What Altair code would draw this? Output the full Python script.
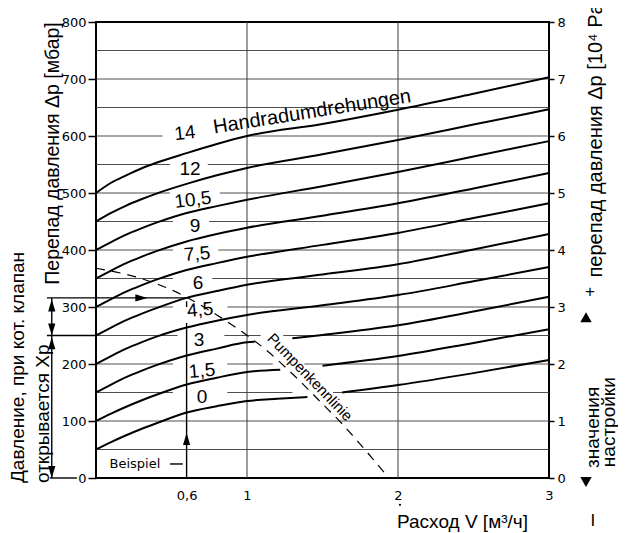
import altair as alt
import pandas as pd

# ---------------- data ----------------
# flow V [m3/h] sample positions and Δp [mbar] for each hand-wheel setting
flow_full = [0, 0.1, 0.2, 0.3, 0.4, 0.6, 0.8, 1.0, 1.5, 2.0, 2.5, 3.0]
dp_14 = [500, 518, 531, 543, 553, 570, 586, 600, 621, 646, 674, 703]
dp_12 = [450, 465, 478, 489, 499, 516, 531, 544, 568, 593, 620, 647]
dp_10_5 = [400, 414, 427, 438, 448, 465, 477, 488, 512, 537, 564, 591]
dp_9 = [350, 364, 377, 388, 398, 415, 428, 439, 460, 482, 508, 535]
dp_7_5 = [300, 314, 327, 338, 348, 365, 377, 388, 409, 430, 456, 482]
dp_6 = [250, 264, 277, 288, 298, 316, 328, 339, 357, 375, 401, 428]
dp_4_5 = [200, 214, 227, 238, 248, 264, 276, 286, 303, 321, 345, 370]

# curves interrupted by the pump line label
flow_3_a = [0, 0.1, 0.2, 0.3, 0.4, 0.6, 0.8, 1.0, 1.05]
dp_3_a = [150, 164, 177, 188, 198, 215, 227, 238, 239]
flow_3_b = [1.30, 1.5, 2.0, 2.5, 3.0]
dp_3_b = [245, 251, 268, 292, 318]
flow_1_5_a = [0, 0.1, 0.2, 0.3, 0.4, 0.6, 0.8, 1.0, 1.22]
dp_1_5_a = [100, 113, 125, 136, 146, 164, 176, 186, 190]
flow_1_5_b = [1.5, 2.0, 2.5, 3.0]
dp_1_5_b = [197, 214, 237, 261]
flow_0_a = [0, 0.1, 0.2, 0.3, 0.4, 0.6, 0.8, 1.0, 1.2, 1.40]
dp_0_a = [50, 63, 75, 86, 96, 115, 126, 135, 139, 142]
flow_0_b = [1.63, 2.0, 2.5, 3.0]
dp_0_b = [150, 163, 184, 207]

# pump characteristic (Pumpenkennlinie)
pump_flow = [0, 0.3, 0.5, 0.6, 0.8, 0.97, 1.12, 1.3, 1.5, 1.63, 1.78, 1.93]
pump_dp = [368, 350, 330, 317, 286, 256, 226, 183, 130, 95, 50, 3]

# curve labels
setting_labels = ["14", "12", "10,5", "9", "7,5", "6", "4,5", "3", "1,5", "0"]
label_x = [0.589, 0.623, 0.642, 0.656, 0.669, 0.675, 0.689, 0.682, 0.702, 0.702]
label_y = [605, 542, 488, 442, 393, 342, 295, 242, 188, 142]
label_angle = [354, 0, 353, 0, 355, 0, 355, 0, 355, 0]

# horizontal grid levels and the gaps left around the labels
grid_levels = list(range(50, 800, 50))
grid_gaps = {
    600: [(0.44, 1.0)],
    550: [(0.49, 0.74)],
    500: [(0.49, 0.82)],
    450: [(0.51, 0.75)],
    400: [(0.51, 0.81)],
    350: [(0.51, 0.77)],
    300: [(0.51, 0.87)],
    250: [(0.54, 0.85), (1.09, 1.24)],
    200: [(0.51, 0.87), (1.17, 1.38)],
    150: [(0.51, 0.87), (1.30, 1.57)],
}
vgrid_flow = [1, 2]

# example construction (Beispiel): V = 0.6 -> Δp 316 -> Xp 250
ex_x = [-0.325, -0.325, -0.305, -0.293, 0.6, 0.6, 0.49]
ex_x2 = [0.6, 0.0, -0.126, -0.293, 0.6, 0.6, 0.575]
ex_y = [316, 250, 0, 316, 0, 300, 24.6]
ex_y2 = [316, 250, 0, 0, 272, 310, 24.6]

arrow_x = [0.6, 0.34, -0.293, -0.293, -0.293, -0.293]
arrow_y = [79, 316, 313, 250, 247, 0]
arrow_dir = ["up", "right", "up", "down", "up", "down"]

# ---------------- tables ----------------
rows = []
def add(name, xs_, ys_):
    for a, b in zip(xs_, ys_):
        rows.append({"seg": name, "flow": a, "dp": b})

add("14", flow_full, dp_14)
add("12", flow_full, dp_12)
add("10,5", flow_full, dp_10_5)
add("9", flow_full, dp_9)
add("7,5", flow_full, dp_7_5)
add("6", flow_full, dp_6)
add("4,5", flow_full, dp_4_5)
add("3a", flow_3_a, dp_3_a)
add("3b", flow_3_b, dp_3_b)
add("1,5a", flow_1_5_a, dp_1_5_a)
add("1,5b", flow_1_5_b, dp_1_5_b)
add("0a", flow_0_a, dp_0_a)
add("0b", flow_0_b, dp_0_b)
curves_df = pd.DataFrame(rows)

pump_df = pd.DataFrame({"flow": pump_flow, "dp": pump_dp})

hseg = []
for lev in grid_levels:
    start = 0.0
    for g0, g1 in grid_gaps.get(lev, []):
        hseg.append({"x": start, "x2": g0, "y": lev})
        start = g1
    hseg.append({"x": start, "x2": 3.0, "y": lev})
hgrid_df = pd.DataFrame(hseg)
vgrid_df = pd.DataFrame({"x": vgrid_flow, "y": [0] * len(vgrid_flow), "y2": [800] * len(vgrid_flow)})

ex_df = pd.DataFrame({"x": ex_x, "x2": ex_x2, "y": ex_y, "y2": ex_y2})
paths = {
    "up": "M0,0L-1.2,4L1.2,4Z",
    "down": "M0,0L-1.2,-4L1.2,-4Z",
    "right": "M0,0L-4,-1.2L-4,1.2Z",
}
arrow_df = pd.DataFrame({"x": arrow_x, "y": arrow_y,
                         "shape": [paths[d] for d in arrow_dir]})

lab_df = pd.DataFrame({"x": label_x, "y": label_y, "t": setting_labels, "a": label_angle})

# ---------------- chart ----------------
FONT = "Liberation Sans"
xs = alt.Scale(domain=[0, 3], nice=False, zero=False)
ys = alt.Scale(domain=[0, 800], nice=False, zero=False)

x_axis = alt.Axis(
    values=[0.6, 1, 2, 3], labelExpr="datum.value == 0.6 ? '0,6' : datum.label",
    ticks=False, domain=False, grid=False, labelPadding=11, labelFlush=False,
    labelOverlap=False, labelFont="DejaVu Sans", labelFontSize=13, labelColor="black",
    title="Расход V [м³/ч]", titleFont=FONT, titleFontSize=19, titleFontWeight="normal",
    titleColor="black", titleX=366, titleY=49, titleAlign="center",
    titleBaseline="alphabetic")
y_axis = alt.Axis(
    values=list(range(0, 801, 100)), tickSize=8, tickWidth=1.5, tickColor="black",
    domain=False, grid=False, labelPadding=2, labelOverlap=False,
    labelFont="DejaVu Sans", labelFontSize=13, labelColor="black",
    title="Перепад давления Δp [мбар]", titleFont=FONT, titleFontSize=19.5,
    titleFontWeight="normal", titleColor="black", titleAngle=270,
    titleX=-44, titleY=131, titleAlign="center", titleBaseline="middle")


def X(f):
    return alt.X(f, type="quantitative", scale=xs, axis=x_axis)


def Y(f):
    return alt.Y(f, type="quantitative", scale=ys, axis=y_axis)


grid_h = alt.Chart(hgrid_df).mark_rule(color="#3a3a3a", strokeWidth=0.9).encode(
    x=X("x"), x2="x2:Q", y=Y("y"))

grid_v = alt.Chart(vgrid_df).mark_rule(color="#3a3a3a", strokeWidth=1).encode(
    x=X("x"), y=Y("y"), y2="y2:Q")

curves = alt.Chart(curves_df).mark_line(color="black", strokeWidth=2, interpolate="monotone").encode(
    x=X("flow"), y=Y("dp"), detail="seg:N")

pump = alt.Chart(pump_df).mark_line(color="black", strokeWidth=1.2, strokeDash=[9, 7],
                                    interpolate="monotone").encode(x=X("flow"), y=Y("dp"))

example = alt.Chart(ex_df).mark_rule(color="black", strokeWidth=1.4).encode(
    x=X("x"), x2="x2:Q", y=Y("y"), y2="y2:Q")

arrows = alt.Chart(arrow_df).mark_point(filled=True, color="black", opacity=1, size=36).encode(
    x=X("x"), y=Y("y"), shape=alt.Shape("shape:N", scale=None))

labels = alt.Chart(lab_df).mark_text(font=FONT, fontSize=19, color="black",
                                     align="center", baseline="middle").encode(
    x=X("x"), y=Y("y"), text="t:N", angle=alt.Angle("a:Q", scale=None))

hand = alt.Chart(pd.DataFrame({"x": [1.437], "y": [632], "t": ["Handradumdrehungen"]})).mark_text(
    font=FONT, fontSize=20, color="black", align="center", baseline="alphabetic", angle=351).encode(
    x=X("x"), y=Y("y"), text="t:N")

pumptxt = alt.Chart(pd.DataFrame({"x": [1.417], "y": [177], "t": ["Pumpenkennlinie"]})).mark_text(
    font=FONT, fontSize=15, color="black", align="center", baseline="middle", angle=46).encode(
    x=X("x"), y=Y("y"), text="t:N")

beispiel = alt.Chart(pd.DataFrame({"x": [0.258], "y": [24.6], "t": ["Beispiel"]})).mark_text(
    font="DejaVu Sans", fontSize=13, color="black", align="center", baseline="middle").encode(
    x=X("x"), y=Y("y"), text="t:N")

side_df = pd.DataFrame({
    "x": [-0.515, -0.351, 3.291, 3.395],
    "y": [-8.8, -8.8, 17.5, 19],
    "t": ["Давление, при кот. клапан", "открывается Xp", "значения", "настройки"],
})
side = alt.Chart(side_df).mark_text(font=FONT, fontSize=19, color="black", align="left",
                                    baseline="middle", angle=270).encode(
    x=X("x"), y=Y("y"), text="t:N")

misc_df = pd.DataFrame({"x": [3.272, 3.291], "y": [326, -75], "t": ["+", "I"]})
misc = alt.Chart(misc_df).mark_text(font=FONT, fontSize=17, color="black", align="center",
                                    baseline="middle").encode(x=X("x"), y=Y("y"), text="t:N")

tri_df = pd.DataFrame({"x": [3.245, 3.245], "y": [282, -7], "s": ["triangle-up", "triangle-down"]})
tris = alt.Chart(tri_df).mark_point(filled=True, color="black", opacity=1, size=130).encode(
    x=X("x"), y=Y("y"), shape=alt.Shape("s:N", scale=None))

dot = alt.Chart(pd.DataFrame({"x": [2.013], "y": [-47]})).mark_point(
    filled=True, color="black", opacity=1, size=5, shape="circle").encode(x=X("x"), y=Y("y"))

left_part = alt.layer(grid_h, grid_v, curves, pump, example, arrows, labels, hand,
                      pumptxt, beispiel, side, misc, tris, dot)

right_df = pd.DataFrame({"v": [0, 8]})
right_axis = alt.Chart(right_df).mark_rule(opacity=0).encode(
    y=alt.Y("v:Q", scale=alt.Scale(domain=[0, 8], nice=False), axis=alt.Axis(
        orient="right", values=list(range(0, 9)), tickSize=5, tickWidth=1.5, tickColor="black",
        domain=False, grid=False, labelPadding=3, labelOverlap=False,
        labelFont="DejaVu Sans", labelFontSize=13, labelColor="black",
        title="перепад давления Δp [10⁴ Pa]", titleFont=FONT, titleFontSize=20,
        titleFontWeight="normal", titleColor="black", titleAngle=270,
        titleX=46, titleY=255, titleAlign="left", titleBaseline="middle")))

chart = alt.layer(left_part, right_axis).resolve_scale(y="independent").properties(
    width=453, height=456,
    padding={"left": 88, "top": 14, "right": 69, "bottom": 55},
    autosize=alt.AutoSizeParams(type="none"),
    background="white",
).configure_view(stroke="black", strokeWidth=2)

chart.save("out.html", embed_options={"renderer": "svg", "actions": False})
